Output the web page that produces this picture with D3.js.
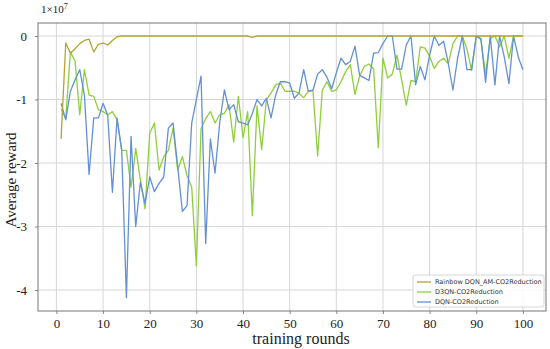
<!DOCTYPE html>
<html>
<head>
<meta charset="utf-8">
<script src="https://cdn.jsdelivr.net/npm/d3@7"></script>
<style>
  body { margin: 0; background: #fff; }
  svg { display: block; }
</style>
</head>
<body>
<svg class="chart"></svg>
<script>
// values, in units of 1e7
var rounds = d3.range(1, 101);
var rainbow = [-1.62, -0.11, -0.27, -0.2, -0.12, -0.07, -0.05, -0.25, -0.13, -0.11,
  -0.14, -0.07, -0.01, 0, 0, 0, 0, 0, 0, 0,
  0, 0, 0, 0, 0, 0, 0, 0, 0, 0,
  0, 0, 0, 0, 0, 0, 0, 0, 0, 0,
  0, -0.02, 0, 0, 0, 0, 0, 0, 0, 0,
  0, 0, 0, 0, 0, 0, 0, 0, 0, 0,
  0, 0, 0, 0, 0, 0, 0, 0, 0, 0,
  0, 0, 0, 0, 0, 0, 0, 0, 0, 0,
  0, 0, 0, 0, 0, 0, 0, 0, 0, 0,
  0, 0, 0, 0, 0, 0, 0, 0, 0, 0];
var d3qn = [-1.15, -1.3, -0.25, -0.4, -1.24, -0.53, -0.93, -0.95, -1.16, -1.19,
  -1.24, -1.19, -1.32, -1.8, -1.8, -2.38, -1.77, -2.27, -2.72, -1.53,
  -1.37, -2.11, -1.9, -1.8, -1.45, -2.11, -1.9, -2.2, -2.38, -3.62,
  -1.46, -1.3, -1.19, -1.37, -1.24, -1.22, -1.08, -1.67, -0.95, -1.6,
  -1.19, -2.83, -1.1, -1.79, -1.0, -0.9, -0.77, -0.74, -0.87, -0.87,
  -0.87, -0.9, -0.97, -0.87, -0.86, -1.89, -0.85, -0.72, -0.87, -0.85,
  -0.72, -0.56, -0.45, -0.92, -0.63, -0.48, -0.44, -0.52, -1.76, -0.35,
  -0.66, -0.6, -0.3, -0.69, -1.09, -0.7, -0.72, -0.17, -0.19, -0.32,
  -0.51, -0.4, -0.35, -0.44, -0.12, 0, 0, -0.2, -0.54, 0,
  -0.06, -0.6, -0.04, 0, -0.17, 0, -0.35, 0, 0, 0];
var dqn = [-1.06, -1.32, -0.87, -0.69, -0.53, -0.93, -2.18, -1.29, -1.29, -1.06,
  -1.25, -2.46, -1.29, -1.8, -4.12, -1.58, -3.0, -2.3, -2.64, -2.22,
  -2.45, -2.32, -2.22, -1.45, -1.37, -2.06, -2.76, -2.67, -1.37, -1.0,
  -0.63, -3.27, -1.62, -2.16, -1.37, -0.85, -1.16, -1.08, -1.35, -1.37,
  -1.4, -1.22, -1.0, -1.1, -0.98, -1.29, -0.93, -0.72, -0.72, -0.74,
  -0.98, -0.9, -0.53, -0.87, -0.85, -0.6, -0.53, -0.65, -0.83, -0.58,
  -0.35, -0.45, -0.4, -0.16, -0.62, -0.66, -0.7, -0.27, -0.26, -0.12,
  0, 0, -0.52, -0.52, -0.14, 0, -0.77, -0.48, -0.69, -0.3,
  0, -0.15, -0.08, -0.43, -0.85, -0.35, 0, -0.53, -0.53, 0,
  -0.04, -0.73, 0, -0.77, 0, -0.33, -0.75, 0, -0.33, -0.53];
var xTicks = [0, 10, 20, 30, 40, 50, 60, 70, 80, 90, 100];
var yTicks = [0, -1, -2, -3, -4];

var width = 550;
var height = 349;
var plotL = 38, plotR = 546, plotT = 23, plotB = 311;

var svg = d3.select(".chart").attr("width", width).attr("height", height);

var x_scale = d3.scaleLinear().domain([-3.95, 104.95]).range([plotL, plotR]);
var y_scale = d3.scaleLinear().domain([-4.33, 0.205]).range([plotB, plotT]);

// grid
svg.append("g")
  .selectAll("line")
  .data(xTicks)
  .enter().append("line")
  .attr("x1", function(d){return x_scale(d)})
  .attr("x2", function(d){return x_scale(d)})
  .attr("y1", plotT).attr("y2", plotB)
  .attr("stroke", "#d6d6d6").attr("stroke-width", 1);
svg.append("g")
  .selectAll("line")
  .data(yTicks)
  .enter().append("line")
  .attr("y1", function(d){return y_scale(d)})
  .attr("y2", function(d){return y_scale(d)})
  .attr("x1", plotL).attr("x2", plotR)
  .attr("stroke", "#d6d6d6").attr("stroke-width", 1);

var x_axis = d3.axisBottom(x_scale).tickValues(xTicks).tickSize(3).tickPadding(5);
var y_axis = d3.axisLeft(y_scale).tickValues(yTicks).tickSize(3).tickPadding(8)
  .tickFormat(function(d){return d === 0 ? "0" : "-" + Math.abs(d)});

var gx = svg.append("g").attr("transform", "translate(0," + plotB + ")").call(x_axis);
var gy = svg.append("g").attr("transform", "translate(" + plotL + ",0)").call(y_axis);
[gx, gy].forEach(function(g){
  g.select(".domain").remove();
  g.selectAll(".tick line").attr("stroke", "#888");
  g.selectAll("text").attr("font-family", "'Liberation Serif', serif")
    .attr("font-size", 13).attr("fill", "#222");
});

// series
var line = d3.line()
  .x(function(d){return x_scale(d[0])})
  .y(function(d){return y_scale(d[1])});

var series = [
  {name: "D3QN-CO2Reduction", values: d3qn, color: "#8fcf3c"},
  {name: "DQN-CO2Reduction", values: dqn, color: "#6390d6"},
  {name: "Rainbow DQN_AM-CO2Reduction", values: rainbow, color: "#b3a534"}
];
series.forEach(function(s){
  svg.append("path")
    .datum(d3.zip(rounds, s.values))
    .attr("d", line)
    .attr("fill", "none")
    .attr("stroke", s.color)
    .attr("stroke-width", 1.3)
    .attr("stroke-linejoin", "round");
});

// frame
svg.append("rect")
  .attr("x", plotL).attr("y", plotT)
  .attr("width", plotR - plotL).attr("height", plotB - plotT)
  .attr("fill", "none").attr("stroke", "#777").attr("stroke-width", 1);

// exponent label
var expo = svg.append("text")
  .attr("x", 41).attr("y", 13)
  .attr("font-family", "'Liberation Serif', serif")
  .attr("font-size", 11).attr("fill", "#222")
  .text("1×10");
expo.append("tspan").attr("dy", -4).attr("font-size", 8).text("7");

// axis titles
svg.append("text")
  .attr("x", 301).attr("y", 344)
  .attr("text-anchor", "middle")
  .attr("font-family", "'Liberation Serif', serif")
  .attr("font-size", 16).attr("fill", "#222")
  .text("training rounds");

svg.append("text")
  .attr("transform", "rotate(-90)")
  .attr("x", -180).attr("y", 16)
  .attr("text-anchor", "middle")
  .attr("font-family", "'Liberation Serif', serif")
  .attr("font-size", 15).attr("fill", "#222")
  .text("Average reward");

// legend
var legendOrder = [series[2], series[0], series[1]];
var lg = svg.append("g");
lg.append("rect")
  .attr("x", 413).attr("y", 275).attr("width", 131).attr("height", 32)
  .attr("fill", "#fff").attr("fill-opacity", 0.85)
  .attr("stroke", "#ccc").attr("stroke-width", 0.8).attr("rx", 2);
legendOrder.forEach(function(s, i){
  var yy = 282 + i * 10;
  lg.append("line")
    .attr("x1", 417).attr("x2", 431)
    .attr("y1", yy).attr("y2", yy)
    .attr("stroke", s.color).attr("stroke-width", 1.3);
  lg.append("text")
    .attr("x", 435).attr("y", yy + 2.3)
    .attr("font-family", "'DejaVu Sans', sans-serif")
    .attr("font-size", 6.5).attr("fill", "#333")
    .text(s.name);
});
</script>
</body>
</html>
